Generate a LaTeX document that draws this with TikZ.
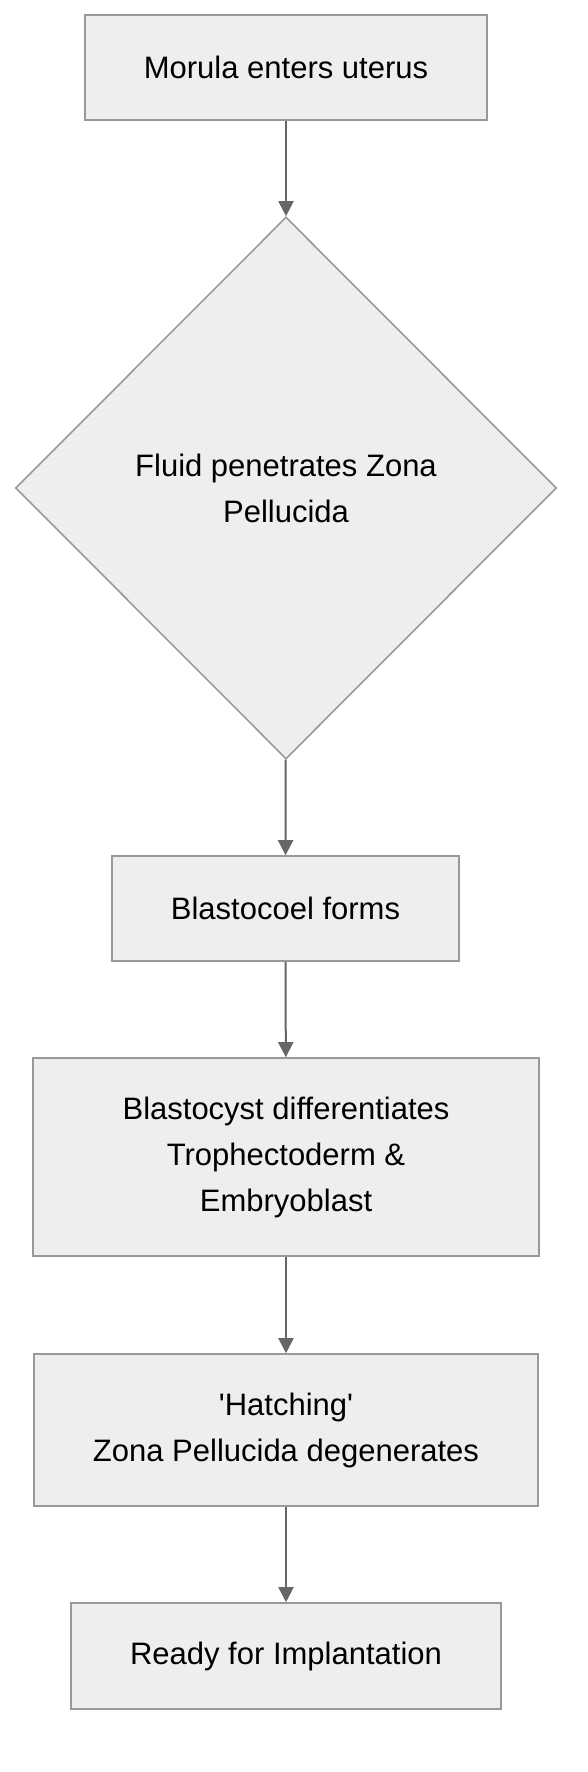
\documentclass[tikz,border=0pt]{standalone}
\usepackage{fontspec}
\setmainfont{Liberation Sans}
\usepackage{tikz}
\usetikzlibrary{arrows.meta,shapes.geometric}

\definecolor{boxfill}{HTML}{EEEEEE}
\definecolor{boxline}{HTML}{999999}
\definecolor{arrline}{HTML}{666666}

\begin{document}
\begin{tikzpicture}[x=1pt, y=1pt,
            box/.style={draw=boxline, fill=boxfill, line width=1.6pt, inner sep=0pt, align=center, font=\fontsize{31}{46}\selectfont},
            decision/.style={box, diamond, aspect=1},
            arr/.style={-{Triangle[width=15pt,length=15pt]}, draw=arrline, fill=arrline, line width=2pt}
        ]
            \useasboundingbox (0,0) rectangle (588,-1772);

            \node[box, minimum width=402, minimum height=105] (morula) at (286,-67.5) {Morula enters uterus};
            \node[decision, minimum width=541, minimum height=542] (fluid) at (286,-488) {Fluid penetrates Zona\\Pellucida};
            \node[box, minimum width=347, minimum height=105] (cavity) at (285.5,-908.5) {Blastocoel forms};
            \node[box, minimum width=506, minimum height=198] (blasto) at (286,-1157) {Blastocyst di{}f{}ferentiates\\Trophectoderm \&\\Embryoblast};
            \node[box, minimum width=504, minimum height=152] (hatch) at (286,-1430) {\textquotesingle Hatching\textquotesingle\\Zona Pellucida degenerates};
            \node[box, minimum width=430, minimum height=106] (ready) at (286,-1656) {Ready for Implantation};

            \draw[arr] (morula) -- (fluid);
            \draw[arr] (fluid) -- (cavity);
            \draw[arr] (cavity) -- (blasto);
            \draw[arr] (blasto) -- (hatch);
            \draw[arr] (hatch) -- (ready);
        \end{tikzpicture}
\end{document}
